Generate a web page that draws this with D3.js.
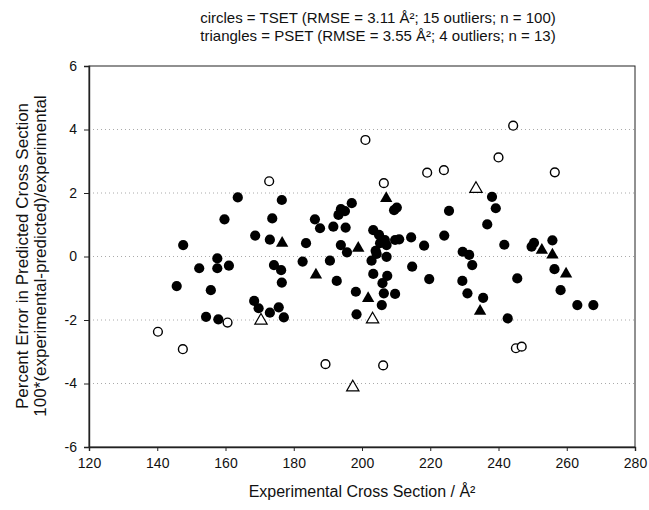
<!DOCTYPE html>
<html><head><meta charset="utf-8">
<script src="https://cdn.jsdelivr.net/npm/d3@7"></script>
<style>body{margin:0;background:#fff}</style>
</head><body><svg id="c" width="649" height="510"></svg>
<script>
// TSET inliers (filled circles): [experimental cross section, percent error]
const tsetX = [147.6,163.6,176.5,159.7,173.7,168.7,173.0,157.6,152.3,157.6,161.0,174.2,176.3,176.5,145.7,155.7,168.4,169.7,173.0,175.6,177.1,154.3,157.9,
  197.0,193.8,195.0,193.1,209.4,210.2,186.2,187.7,191.6,195.2,203.3,205.0,206.7,209.7,210.9,214.4,218.2,183.6,193.8,195.6,204.0,204.3,202.8,207.2,207.2,205.3,
  182.6,190.6,192.6,203.3,207.4,206.0,214.7,219.7,198.2,206.4,209.7,205.8,198.4,
  238.1,239.2,225.5,236.7,224.1,241.7,250.4,249.7,255.8,229.5,231.4,232.3,256.4,229.4,245.5,258.2,230.9,235.5,263.1,267.8,242.7];
const tsetY = [0.36,1.86,1.78,1.17,1.20,0.66,0.53,-0.06,-0.37,-0.37,-0.29,-0.27,-0.43,-0.82,-0.93,-1.06,-1.40,-1.63,-1.77,-1.60,-1.92,-1.90,-1.98,
  1.68,1.49,1.43,1.31,1.46,1.54,1.17,0.89,0.94,0.91,0.83,0.68,0.52,0.52,0.54,0.60,0.34,0.42,0.36,0.13,0.18,0.08,-0.13,0.36,-0.01,0.42,
  -0.16,-0.13,-0.77,-0.55,-0.61,-0.84,-0.32,-0.71,-1.11,-1.16,-1.18,-1.53,-1.82,
  1.88,1.52,1.44,1.01,0.66,0.37,0.43,0.31,0.51,0.15,0.05,-0.27,-0.40,-0.77,-0.69,-1.06,-1.16,-1.30,-1.53,-1.53,-1.95];
// TSET outliers (open circles)
const tsetOutX = [172.8,160.6,140.2,147.5,201.0,219.1,206.4,189.3,206.2,244.3,240.0,224.0,256.5,245.1,246.8];
const tsetOutY = [2.37,-2.08,-2.37,-2.92,3.67,2.64,2.31,-3.39,-3.43,4.12,3.12,2.72,2.65,-2.89,-2.84];
// PSET inliers (filled triangles)
const psetX = [176.6,207.1,198.9,186.5,201.8,252.7,255.8,259.8,234.6];
const psetY = [0.42,1.83,0.26,-0.58,-1.32,0.20,0.05,-0.55,-1.72];
// PSET outliers (open triangles)
const psetOutX = [170.4,203.1,197.3,233.4];
const psetOutY = [-2.02,-1.98,-4.12,2.13];

const xTicks = [120,140,160,180,200,220,240,260,280];
const yTicks = [-6,-4,-2,0,2,4,6];
const gridVals = [-4,-2,0,2,4];
const titleLines = ["circles = TSET (RMSE = 3.11 Å²; 15 outliers; n = 100)",
                    "triangles = PSET (RMSE = 3.55 Å²; 4 outliers; n = 13)"];
const yTitle = ["Percent Error in Predicted Cross Section","100*(experimental-predicted)/experimental"];
const xTitle = "Experimental Cross Section / Å²";

const svg = d3.select("#c");
const font = "'Liberation Sans', Arial, Helvetica, sans-serif";
const L = 89, R = 635, T = 66, B = 447;
const x = d3.scaleLinear().domain([120,280]).range([L,R]);
const y = d3.scaleLinear().domain([-6,6]).range([B,T]);

// gridlines
svg.append("g").selectAll("line").data(gridVals).join("line")
  .attr("x1",L).attr("x2",R).attr("y1",d=>y(d)).attr("y2",d=>y(d))
  .attr("stroke","#aaa").attr("stroke-width",1).attr("stroke-dasharray","1,3");

// frame
svg.append("rect").attr("x",L).attr("y",T).attr("width",R-L).attr("height",B-T)
  .attr("fill","none").attr("stroke","#222").attr("stroke-width",1);

const xa = svg.append("g").attr("transform",`translate(0,${B})`)
  .call(d3.axisBottom(x).tickValues(xTicks).tickSize(4).tickPadding(7).tickFormat(d3.format("d")));
const ya = svg.append("g").attr("transform",`translate(${L},0)`)
  .call(d3.axisLeft(y).tickValues(yTicks).tickSize(5).tickPadding(7).tickFormat(d3.format("d")));
[xa,ya].forEach(a=>{
  a.select(".domain").attr("stroke","#222").attr("stroke-width",1.4);
  a.selectAll(".tick line").attr("stroke","#222");
  a.selectAll("text").attr("font-family",font).attr("font-size",14).attr("fill","#111");
});
ya.selectAll("text").text(d=>d<0?"-"+Math.abs(d):d);

// markers
const r = 5.1;
const tri = d3.symbol().type(d3.symbolTriangle).size(66);
svg.append("g").selectAll("circle").data(tsetX.map((v,i)=>[v,tsetY[i]])).join("circle")
  .attr("cx",d=>x(d[0])).attr("cy",d=>y(d[1])).attr("r",r).attr("fill","#000");
svg.append("g").selectAll("circle").data(tsetOutX.map((v,i)=>[v,tsetOutY[i]])).join("circle")
  .attr("cx",d=>x(d[0])).attr("cy",d=>y(d[1])).attr("r",r-0.7).attr("fill","#fff")
  .attr("stroke","#000").attr("stroke-width",1.4);
svg.append("g").selectAll("path").data(psetX.map((v,i)=>[v,psetY[i]])).join("path")
  .attr("d",tri).attr("transform",d=>`translate(${x(d[0])},${y(d[1])})`).attr("fill","#000");
svg.append("g").selectAll("path").data(psetOutX.map((v,i)=>[v,psetOutY[i]])).join("path")
  .attr("d",tri).attr("transform",d=>`translate(${x(d[0])},${y(d[1])})`).attr("fill","#fff")
  .attr("stroke","#000").attr("stroke-width",1.2);

// titles
const cx = 378;
titleLines.forEach((t,i)=>{
  svg.append("text").attr("x",cx).attr("y",23+i*18).attr("text-anchor","middle")
    .attr("font-family",font).attr("font-size",15).attr("fill","#111").text(t);
});
yTitle.forEach((t,i)=>{
  svg.append("text").attr("transform",`translate(${28+i*18},${256}) rotate(-90)`)
    .attr("text-anchor","middle").attr("font-family",font).attr("font-size",17).attr("fill","#111").text(t);
});
svg.append("text").attr("x",362).attr("y",497).attr("text-anchor","middle")
  .attr("font-family",font).attr("font-size",16).attr("fill","#111").text(xTitle);
</script></body></html>
